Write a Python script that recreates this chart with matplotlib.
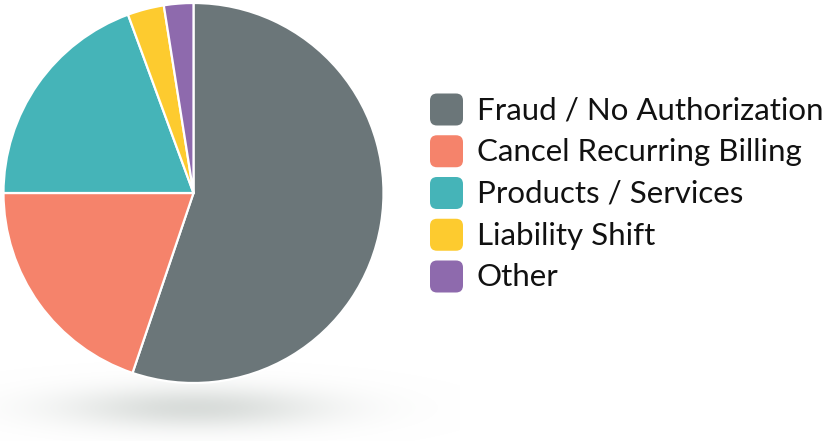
import numpy as np
import matplotlib.pyplot as plt
from matplotlib.patches import FancyBboxPatch

# chargeback reasons (share of total, %)
labels = ["Fraud / No Authorization", "Cancel Recurring Billing",
          "Products / Services", "Liability Shift", "Other"]
shares = [55.2, 19.8, 19.4, 3.1, 2.5]
colors = ["#6b7679", "#f5836b", "#45b4b8", "#fdcb2f", "#8e6aad"]

W, H = 825, 441
fig = plt.figure(figsize=(W / 100, H / 100), dpi=100)
ax = fig.add_axes([0, 0, 1, 1])

# soft shadow under the pie
xs = np.linspace(0, 460, 460)
ys = np.linspace(340, 441, 101)
X, Y = np.meshgrid(xs, ys)
d = ((X - 195) / 185) ** 2 + ((Y - 408) / 30) ** 2
a = np.clip(np.exp(-2.0 * d) * 0.75, 0, 1)
img = np.zeros((len(ys), len(xs), 4))
img[..., 0] = 0.80
img[..., 1] = 0.82
img[..., 2] = 0.81
img[..., 3] = a
ax.imshow(img, extent=(0, 460, H - 441, H - 340), origin="upper", zorder=1, aspect="auto")

cx, cy, r = 193.5, H - 193, 190
ax.pie(shares, colors=colors, startangle=90, counterclock=False,
       center=(cx, cy), radius=r, frame=True,
       wedgeprops=dict(edgecolor="white", linewidth=1.6, zorder=2))
ax.set_xlim(0, W)
ax.set_ylim(0, H)
ax.set_aspect("equal")
ax.set_axis_off()

# legend
y0, step = H - 109.5, 41.75
for i, (lab, col) in enumerate(zip(labels, colors)):
    y = y0 - i * step
    box = FancyBboxPatch((430, y - 16), 33, 32, boxstyle="round,pad=0,rounding_size=7",
                         facecolor=col, edgecolor="none", zorder=3)
    ax.add_patch(box)
    ax.text(477, y - 1, lab, fontsize=22.5, family="Lato",
            color="#111111", va="center", ha="left")

fig.savefig("out.png", dpi=100)
